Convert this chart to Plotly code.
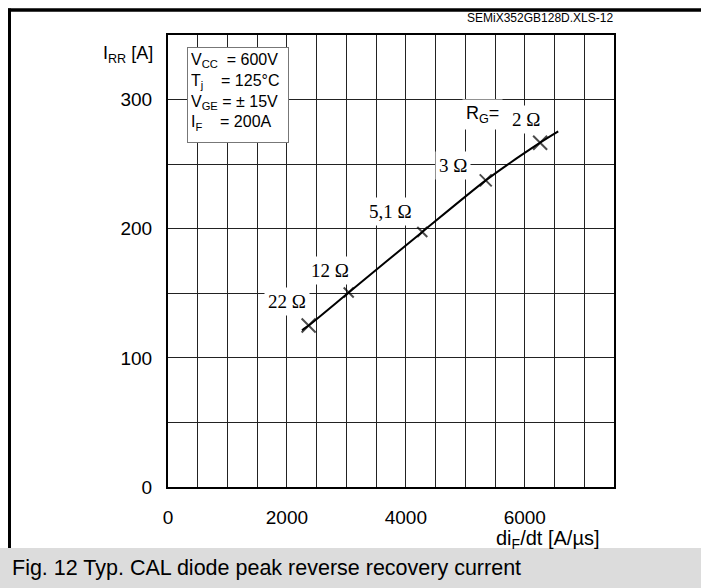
import plotly.graph_objects as go

# ---- data ----
rg_labels = ["22 Ω", "12 Ω", "5,1 Ω", "3 Ω", "2 Ω"]
didt_points = [2365, 3039, 4276, 5343, 6258]        # A/µs
irr_points = [125, 150.6, 197.5, 237.4, 266.6]      # A

curve_didt = [2253, 2365, 3039, 4276, 5343, 6258, 6562]
curve_irr = [121.4, 125, 150.6, 197.5, 237.4, 266.6, 275.3]

x_tick_vals = [0, 2000, 4000, 6000]
x_tick_labels = ["0", "2000", "4000", "6000"]
y_tick_vals = [0, 100, 200, 300]
y_tick_labels = ["0", "100", "200", "300"]

conditions = ["V<sub>CC</sub>\u00a0\u00a0= 600V",
              "T<sub>j</sub>\u00a0\u00a0\u00a0\u00a0= 125°C",
              "V<sub>GE</sub> = ± 15V",
              "I<sub>F</sub>\u00a0\u00a0\u00a0\u00a0= 200A"]

# ---- layout geometry (pixels) ----
W, H = 701, 588
L, R, T, B = 168, 614, 35, 487


def px(x):
    return (x - L) / (R - L)


def py(y):
    return (B - y) / (B - T)


SANS = "Liberation Sans, Arial, sans-serif"
SERIF = "Liberation Serif, Times New Roman, serif"

fig = go.Figure()
fig.add_trace(go.Scatter(
    x=curve_didt, y=curve_irr, mode="lines",
    line=dict(color="black", width=2, shape="spline", smoothing=0.6),
    hoverinfo="skip", showlegend=False))
fig.add_trace(go.Scatter(
    x=didt_points, y=irr_points, mode="markers",
    marker=dict(symbol="x-thin", size=[14, 10, 10, 12, 14],
                line=dict(color="black", width=2), color="black"),
    showlegend=False))

# label offsets (pixels) relative to each point
shifts = [(-22, 24), (-19, 22), (-32, 20), (-33, 15), (-14, 23)]
annotations = []
for lab, xv, yv, (dx, dy) in zip(rg_labels, didt_points, irr_points, shifts):
    annotations.append(dict(
        x=xv, y=yv, xref="x", yref="y", text=lab, showarrow=False,
        xanchor="center", yanchor="middle",
        xshift=dx, yshift=dy, font=dict(family=SERIF, size=19, color="black"),
        bgcolor="white", borderpad=3))
annotations.append(dict(
    x=didt_points[-1], y=irr_points[-1], xref="x", yref="y",
    text="R<sub>G</sub>=", showarrow=False, xanchor="center", yanchor="middle",
    xshift=-58, yshift=28,
    font=dict(family=SANS, size=18, color="black"), bgcolor="white", borderpad=3))

# conditions box
annotations.append(dict(
    x=px(187), y=py(47), xref="paper", yref="paper", xanchor="left", yanchor="top",
    text="<br>".join(conditions), showarrow=False, align="left", valign="top",
    font=dict(family=SANS, size=16, color="black"),
    bgcolor="white", bordercolor="#777777", borderwidth=1, borderpad=3,
    width=94, height=88))

# axis titles
annotations.append(dict(
    x=px(128), y=py(55), xref="paper", yref="paper", text="I<sub>RR</sub> [A]",
    xanchor="center", yanchor="middle",
    showarrow=False, font=dict(family=SANS, size=18, color="black")))
annotations.append(dict(
    x=px(547), y=py(539), xref="paper", yref="paper", text="di<sub>F</sub>/dt [A/µs]",
    xanchor="center", yanchor="middle",
    showarrow=False, font=dict(family=SANS, size=20, color="black")))
# file tag
annotations.append(dict(
    x=px(615), y=py(18), xref="paper", yref="paper", xanchor="right", yanchor="middle",
    text="SEMiX352GB128D.XLS-12", showarrow=False,
    font=dict(family=SANS, size=12, color="black")))
# caption
annotations.append(dict(
    x=px(10), y=py(568), xref="paper", yref="paper", xanchor="left", yanchor="middle",
    text="Fig. 12 Typ. CAL diode peak reverse recovery current", showarrow=False,
    font=dict(family=SANS, size=21.5, color="black")))

shapes = [
    dict(type="rect", xref="paper", yref="paper", x0=px(0), x1=px(W + 5),
         y0=py(548), y1=py(H + 5), fillcolor="#dcdcdc", line=dict(width=0), layer="below"),
    dict(type="line", xref="paper", yref="paper", x0=px(8), x1=px(W + 5),
         y0=py(10), y1=py(10), line=dict(color="black", width=3.5)),
    dict(type="line", xref="paper", yref="paper", x0=px(9.5), x1=px(9.5),
         y0=py(8.5), y1=py(548), line=dict(color="black", width=3)),
]

grid_col = "#222222"
fig.update_layout(
    width=W, height=H,
    margin=dict(l=L, r=W - R, t=T, b=H - B),
    paper_bgcolor="white", plot_bgcolor="white",
    font=dict(family=SANS, size=19, color="black"),
    annotations=annotations, shapes=shapes,
    xaxis=dict(range=[0, 7500], tickmode="array", tickvals=x_tick_vals, ticktext=x_tick_labels,
               showgrid=True, gridcolor=grid_col, gridwidth=1, zeroline=False,
               minor=dict(tick0=0, dtick=500, showgrid=True, gridcolor=grid_col, gridwidth=1),
               showline=True, linecolor="black", linewidth=2, mirror=True,
               ticks="", ticklabelstandoff=12, fixedrange=True),
    yaxis=dict(range=[0, 350], tickmode="array", tickvals=y_tick_vals, ticktext=y_tick_labels,
               showgrid=True, gridcolor=grid_col, gridwidth=1, zeroline=False,
               minor=dict(tick0=0, dtick=50, showgrid=True, gridcolor=grid_col, gridwidth=1),
               showline=True, linecolor="black", linewidth=2, mirror=True,
               ticks="", ticklabelstandoff=10, fixedrange=True),
)

fig.write_html("out.html", config={"displayModeBar": False},
               post_script="document.body.style.margin='0';")
